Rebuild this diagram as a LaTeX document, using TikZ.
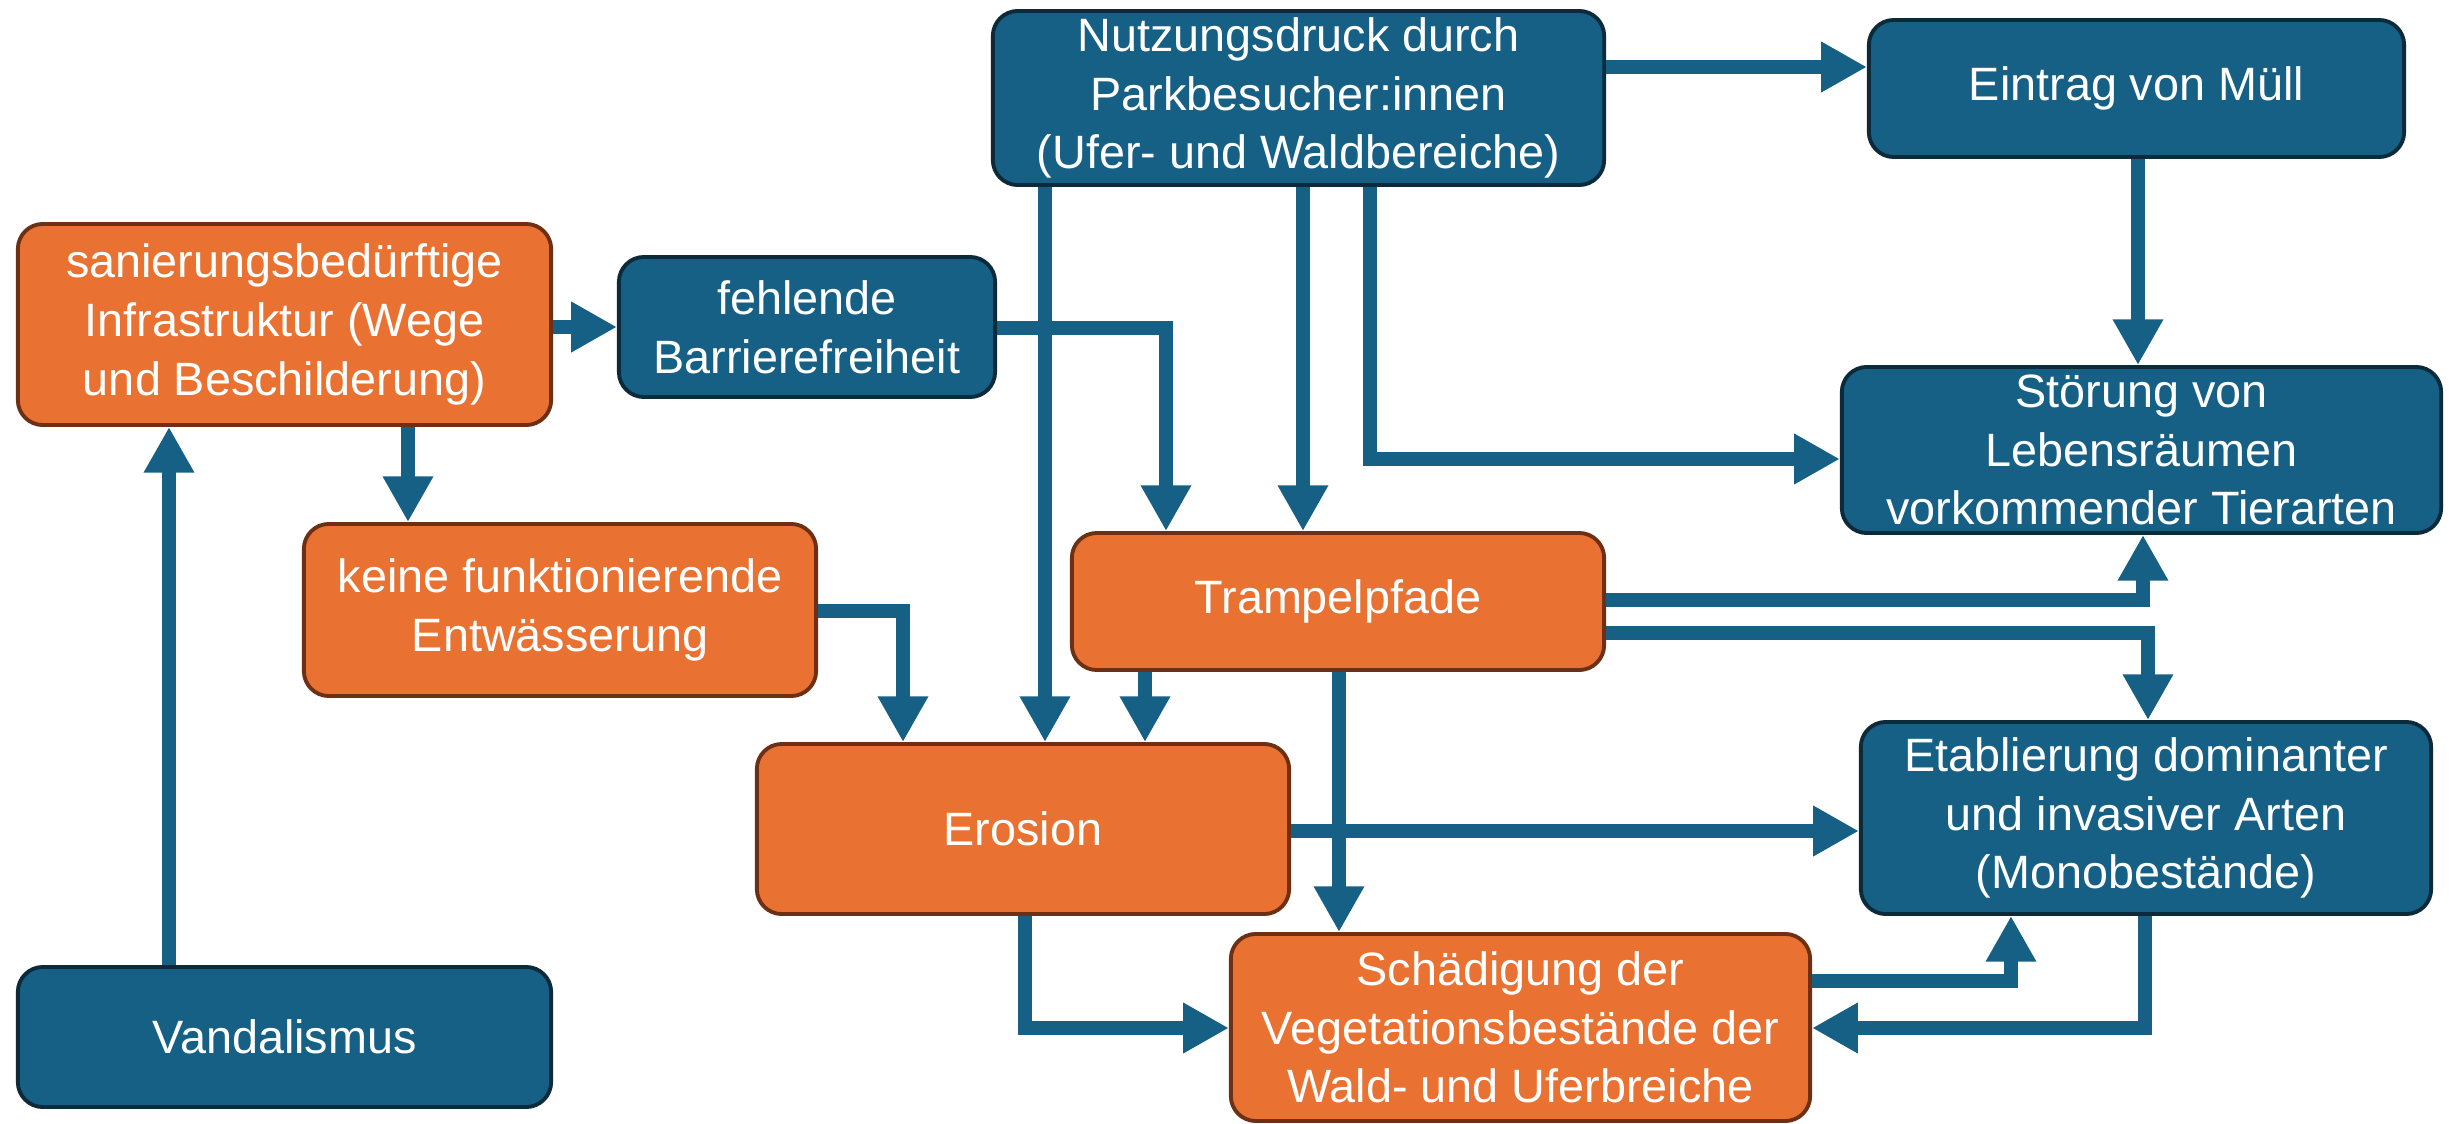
\documentclass[tikz,border=0pt]{standalone}
\usepackage{fontspec}
\setmainfont{Liberation Sans}
\usetikzlibrary{arrows.meta}
\definecolor{bluefill}{HTML}{176085}
\definecolor{blueedge}{HTML}{0C2A3A}
\definecolor{orangefill}{HTML}{E97233}
\definecolor{orangeedge}{HTML}{6E3014}
\definecolor{arrowc}{HTML}{176085}
\begin{document}
\begin{tikzpicture}[x=0.01cm,y=-0.01cm,
  box/.style={rectangle, rounded corners=0.25cm, line width=1.1pt, align=center,
    text=white, font=\fontsize{13.3pt}{16.7pt}\selectfont, inner sep=0pt},
  bluebox/.style={box, fill=bluefill, draw=blueedge},
  orangebox/.style={box, fill=orangefill, draw=orangeedge},
  arr/.style={draw=arrowc, line width=4.2pt, line join=miter,
    -{Triangle[length=13pt,width=13.5pt]}}]
\useasboundingbox (0,0) rectangle (2459,1124);

% nodes
\node[bluebox, minimum width=6.11cm, minimum height=1.74cm] (nutz) at (1298.5,98)
  {Nutzungsdruck durch\\Parkbesucher:innen\\(Ufer- und Waldbereiche)};
\node[bluebox, minimum width=5.35cm, minimum height=1.37cm] (eintrag) at (2136.5,88.5)
  {Eintrag von Müll};
\node[bluebox, minimum width=5.99cm, minimum height=1.66cm] (stoer) at (2141.5,450)
  {Störung von\\Lebensräumen\\vorkommender Tierarten};
\node[orangebox, minimum width=5.33cm, minimum height=2.01cm] (san) at (284.5,324.5)
  {sanierungsbedürftige\\Infrastruktur (Wege\\und Beschilderung)};
\node[bluebox, minimum width=3.76cm, minimum height=1.40cm] (fehl) at (807,327)
  {fehlende\\Barrierefreiheit};
\node[orangebox, minimum width=5.12cm, minimum height=1.72cm] (keine) at (560,610)
  {keine funktionierende\\Entwässerung};
\node[orangebox, minimum width=5.32cm, minimum height=1.37cm] (tramp) at (1338,601.5)
  {Trampelpfade};
\node[orangebox, minimum width=5.32cm, minimum height=1.70cm] (eros) at (1023,829)
  {Erosion};
\node[bluebox, minimum width=5.70cm, minimum height=1.92cm] (etab) at (2146,818)
  {Etablierung dominanter\\und invasiver Arten\\(Monobestände)};
\node[orangebox, minimum width=5.79cm, minimum height=1.87cm] (schad) at (1520.5,1027.5)
  {Schädigung der\\Vegetationsbestände der\\Wald- und Uferbreiche};
\node[bluebox, minimum width=5.33cm, minimum height=1.40cm] (vand) at (284.5,1037)
  {Vandalismus};

% helper coordinates for connector routes
\coordinate (k1) at (408,0);
\coordinate (v1) at (169,0);
\coordinate (f1) at (0,328);
\coordinate (f2) at (1166,0);
\coordinate (e1) at (1045,0);
\coordinate (t1) at (1303,0);
\coordinate (s1) at (1370,0);
\coordinate (s2) at (0,459);
\coordinate (m1) at (0,67);
\coordinate (m2) at (2138,0);
\coordinate (k2) at (0,611);
\coordinate (k3) at (903,0);
\coordinate (r1) at (1145,0);
\coordinate (r2) at (1339,0);
\coordinate (r3) at (0,600);
\coordinate (r4) at (2143,0);
\coordinate (r5) at (0,633);
\coordinate (r6) at (2148,0);
\coordinate (r7) at (0,831);
\coordinate (r8) at (1025,0);
\coordinate (r9) at (0,1028);
\coordinate (r10) at (0,981);
\coordinate (r11) at (2011,0);
\coordinate (r12) at (2145,0);

% connectors
\draw[arr] (san.east |- fehl.west) -- (fehl.west);
\draw[arr] (san.south -| k1) -- (keine.north -| k1);
\draw[arr] (vand.north -| v1) -- (san.south -| v1);
\draw[arr] (fehl.east |- f1) -| (tramp.north -| f2);
\draw[arr] (nutz.south -| e1) -- (eros.north -| e1);
\draw[arr] (nutz.south -| t1) -- (tramp.north -| t1);
\draw[arr] (nutz.south -| s1) |- (stoer.west |- s2);
\draw[arr] (nutz.east |- m1) -- (eintrag.west |- m1);
\draw[arr] (eintrag.south -| m2) -- (stoer.north -| m2);
\draw[arr] (keine.east |- k2) -| (eros.north -| k3);
\draw[arr] (tramp.south -| r1) -- (eros.north -| r1);
\draw[arr] (tramp.south -| r2) -- (schad.north -| r2);
\draw[arr] (tramp.east |- r3) -| (stoer.south -| r4);
\draw[arr] (tramp.east |- r5) -| (etab.north -| r6);
\draw[arr] (eros.east |- r7) -- (etab.west |- r7);
\draw[arr] (eros.south -| r8) |- (schad.west |- r9);
\draw[arr] (schad.east |- r10) -| (etab.south -| r11);
\draw[arr] (etab.south -| r12) |- (schad.east |- r9);
\end{tikzpicture}
\end{document}
